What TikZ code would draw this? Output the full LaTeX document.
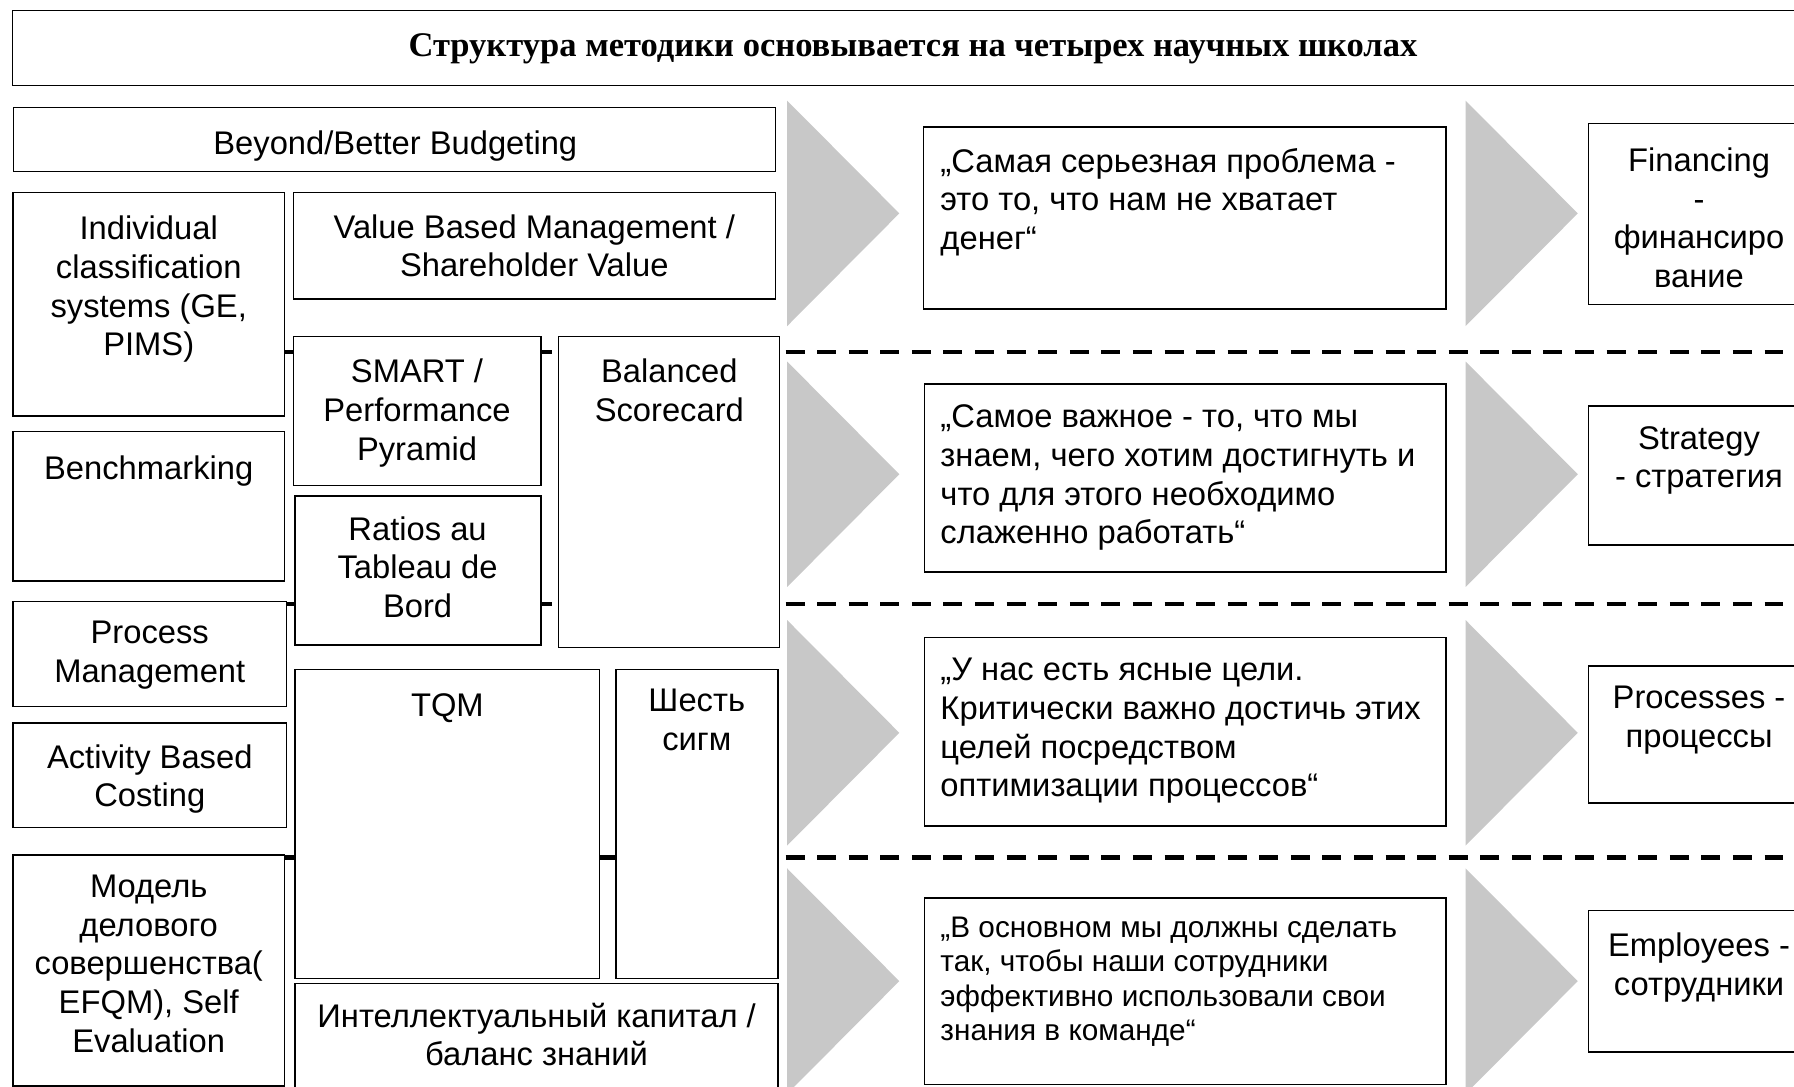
\documentclass[tikz,border=0pt]{standalone}
\usepackage{fontspec}
\setmainfont{Liberation Sans}
\newfontfamily\titlefont{Liberation Serif}
\usetikzlibrary{fit}
\definecolor{chev}{RGB}{200,200,200}
\tikzset{
  box/.style={draw=black, line width=0.65pt, fill=white, inner sep=0pt, outer sep=0pt},
  txt/.style={inner sep=0pt, outer sep=0pt, align=center, anchor=north,
    font=\fontsize{14.3pt}{16.9pt}\selectfont, execute at begin node=\strut},
  qtxt/.style={txt, align=left, anchor=north west},
  qsmall/.style={qtxt, font=\fontsize{13pt}{15.1pt}\selectfont},
  sepline/.style={line width=1.9pt, dash pattern=on 8.3pt off 5.5pt},
  chevron/.style={fill=chev, draw=none},
  titletxt/.style={inner sep=0pt, anchor=base, font=\titlefont\bfseries\fontsize{15.1pt}{17pt}\selectfont}
}
\begin{document}
\begin{tikzpicture}[x=0.5pt,y=-0.5pt]
\useasboundingbox (0,0) rectangle (1568,950);
\fill[white] (0,0) rectangle (1568,950);
\clip (0,0) rectangle (1568,950);

% title
\node[box, fit={(11,9) (1600,74.5)}] (title) {};
\node[titletxt] (title-t) at (798,49) {Структура методики основывается на четырех научных школах};

% separators
\draw[sepline] (245,307.5) -- (1600,307.5);
\draw[sepline] (245,528) -- (1600,528);
\draw[sepline] (245,749.5) -- (1600,749.5);

% chevrons
\foreach \t in {88,316,542,759} {
  \fill[chevron] (688,\t) -- (786,\t+98.5) -- (688,\t+197) -- cycle;
  \fill[chevron] (1281,\t) -- (1379,\t+98.5) -- (1281,\t+197) -- cycle;
}

% left block boxes
\node[box, fit={(12,94) (678,150)}] (bb) {};
\node[box, fit={(11.2,168.4) (248.8,363.6)}] (ind) {};
\node[box, fit={(256.4,168.4) (677.8,261.3)}] (vbm) {};
\node[box, fit={(256.4,294.3) (472.7,424.5)}] (smart) {};
\node[box, fit={(488.3,294.3) (681.4,565.8)}] (bsc) {};
\node[box, fit={(11.2,377.3) (248.8,507.8)}] (bench) {};
\node[box, fit={(257.8,433.5) (472.7,563.8)}] (ratios) {};
\node[box, fit={(11.2,525.9) (250.6,617.7)}] (proc) {};
\node[box, fit={(11.2,631.7) (250.6,723.1)}] (abc) {};
\node[box, fit={(11.2,747.3) (248.8,949)}] (efqm) {};
\node[box, fit={(257.8,585) (524,855)}] (tqm) {};
\node[box, fit={(538.2,585) (680,855)}] (six) {};
\node[box, fit={(257.8,859.5) (680,965)}] (ic) {};

\node[txt] (bb-t) at (345.5,111.6) {Beyond/Better Budgeting};
\node[txt] (ind-t) at (130,188.9) {Individual\\classification\\systems (GE,\\PIMS)};
\node[txt] (vbm-t) at (467,187.5) {Value Based Management /\\Shareholder Value};
\node[txt] (smart-t) at (364.5,314) {SMART /\\Performance\\Pyramid};
\node[txt] (bsc-t) at (585,314) {Balanced\\Scorecard};
\node[txt] (bench-t) at (130,395.8) {Benchmarking};
\node[txt] (ratios-t) at (365,451.5) {Ratios au\\Tableau de\\Bord};
\node[txt] (proc-t) at (130.9,542.9) {Process\\Management};
\node[txt] (abc-t) at (130.9,650.7) {Activity Based\\Costing};
\node[txt] (efqm-t) at (130,764.8) {Модель\\делового\\совершенства(\\EFQM), Self\\Evaluation};
\node[txt] (tqm-t) at (391,602.6) {TQM};
\node[txt] (six-t) at (609,602.6) {Шесть\\сигм};
\node[txt] (ic-t) at (469,876.5) {Интеллектуальный капитал /\\баланс знаний};

% quote boxes
\node[box, fit={(807,111) (1264,270)}] (q1) {};
\node[box, fit={(808,335.6) (1264,500)}] (q2) {};
\node[box, fit={(808,557) (1264,722)}] (q3) {};
\node[box, fit={(808,785) (1264,948)}] (q4) {};
\node[qtxt] (q1-t) at (822,129.5) {„Самая серьезная проблема -\\это то, что нам не хватает\\денег“};
\node[qtxt] (q2-t) at (822,354) {„Самое важное - то, что мы\\знаем, чего хотим достигнуть и\\что для этого необходимо\\слаженно работать“};
\node[qtxt] (q3-t) at (822,575.5) {„У нас есть ясные цели.\\Критически важно достичь этих\\целей посредством\\оптимизации процессов“};
\node[qsmall] (q4-t) at (822,801.2) {„В основном мы должны сделать\\так, чтобы наши сотрудники\\эффективно использовали свои\\знания в команде“};

% right boxes
\node[box, fit={(1388.5,107.8) (1600,266)}] (fin) {};
\node[box, fit={(1388.5,355) (1600,476.5)}] (str) {};
\node[box, fit={(1388.5,582) (1600,702)}] (pro) {};
\node[box, fit={(1388.5,796) (1600,919.5)}] (emp) {};
\node[txt] (fin-t) at (1485,129.2) {Financing\\-\\финансиро\\вание};
\node[txt] (str-t) at (1485,372.5) {Strategy\\- стратегия};
\node[txt] (pro-t) at (1485,599.7) {Processes -\\процессы};
\node[txt] (emp-t) at (1485,815.4) {Employees -\\сотрудники};
\end{tikzpicture}
\end{document}
